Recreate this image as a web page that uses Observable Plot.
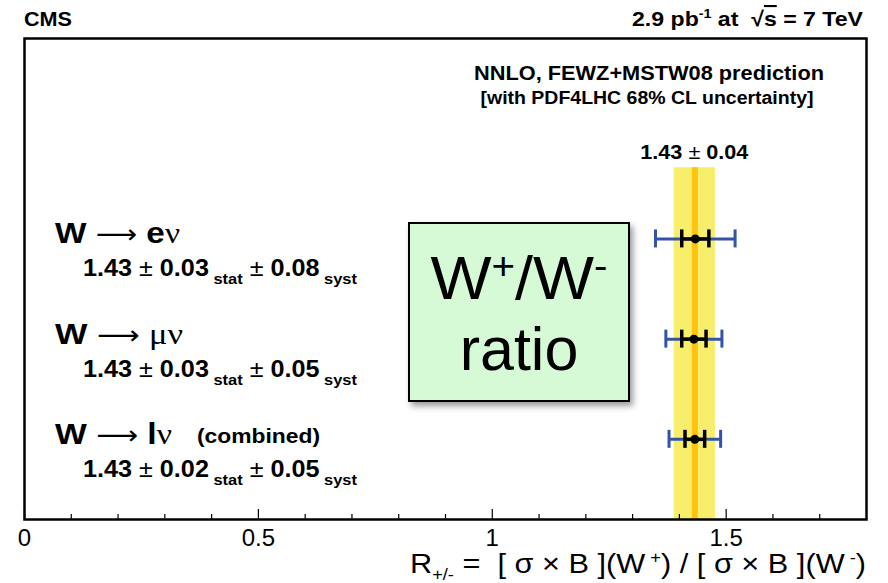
<!DOCTYPE html>
<html>
<head>
<meta charset="utf-8">
<script src="https://cdn.jsdelivr.net/npm/d3@7"></script>
<script src="https://cdn.jsdelivr.net/npm/@observablehq/plot@0.6"></script>
<style>
  html, body { margin: 0; padding: 0; background: #fff; }
  svg { display: block; }
</style>
</head>
<body>
<div id="chart"></div>
<script>
// Decay channels, listed top to bottom
const channels = ["e", "μ", "l"];
const channelNotes = ["", "", "(combined)"];
const rowPos = [3, 2, 1];

// Measured W+/W- cross-section ratio per channel
const ratioValues = [1.434, 1.431, 1.433];
const statErrors = [0.029, 0.026, 0.021];
const systErrors = [0.080, 0.054, 0.051];

// NNLO prediction (FEWZ + MSTW08, PDF4LHC 68% CL)
const predictionValue = 1.433;
const predictionError = 0.044;

// Axis ticks
const majorTicks = [0, 0.5, 1, 1.5];
const minorTicks = [0.1, 0.2, 0.3, 0.4, 0.6, 0.7, 0.8, 0.9, 1.1, 1.2, 1.3, 1.4, 1.6, 1.7];

const W = 888, H = 583;
const margin = {left: 24, right: 22, top: 38, bottom: 64};
const xDomain = [0, 1.8];
const yDomain = [0.2, 5.0];
const unitsPerPx = (yDomain[1] - yDomain[0]) / (H - margin.top - margin.bottom);
const capHalf = 9 * unitsPerPx;
const bandTop = 3.71;

const blue = "#3553a6";
const sans = "'Liberation Sans', Arial, Helvetica, sans-serif";
const serif = "'Liberation Serif', 'Times New Roman', serif";

const rows = channels.map((c, i) => ({
  channel: c,
  note: channelNotes[i],
  pos: rowPos[i],
  value: ratioValues[i],
  stat: statErrors[i],
  syst: systErrors[i],
  total: Math.hypot(statErrors[i], systErrors[i])
}));
const prediction = [{value: predictionValue, error: predictionError}];

const plot = Plot.plot({
  width: W,
  height: H,
  marginLeft: margin.left,
  marginRight: margin.right,
  marginTop: margin.top,
  marginBottom: margin.bottom,
  style: {fontFamily: sans, background: "white", color: "black"},
  x: {domain: xDomain},
  y: {domain: yDomain, axis: null},
  marks: [
    // prediction band and central value
    Plot.rect(prediction, {x1: d => d.value - d.error, x2: d => d.value + d.error, y1: yDomain[0], y2: bandTop, fill: "#f7ee6c"}),
    Plot.ruleX(prediction, {x: "value", y1: yDomain[0], y2: bandTop, stroke: "#fdc310", strokeWidth: 6}),
    // total uncertainty (stat ⊕ syst)
    Plot.ruleY(rows, {y: "pos", x1: d => d.value - d.total, x2: d => d.value + d.total, stroke: blue, strokeWidth: 3}),
    Plot.ruleX(rows, {x: d => d.value - d.total, y1: d => d.pos - capHalf, y2: d => d.pos + capHalf, stroke: blue, strokeWidth: 3}),
    Plot.ruleX(rows, {x: d => d.value + d.total, y1: d => d.pos - capHalf, y2: d => d.pos + capHalf, stroke: blue, strokeWidth: 3}),
    // statistical uncertainty
    Plot.ruleY(rows, {y: "pos", x1: d => d.value - d.stat, x2: d => d.value + d.stat, stroke: "black", strokeWidth: 3.5}),
    Plot.ruleX(rows, {x: d => d.value - d.stat, y1: d => d.pos - capHalf, y2: d => d.pos + capHalf, stroke: "black", strokeWidth: 3.5}),
    Plot.ruleX(rows, {x: d => d.value + d.stat, y1: d => d.pos - capHalf, y2: d => d.pos + capHalf, stroke: "black", strokeWidth: 3.5}),
    Plot.dot(rows, {x: "value", y: "pos", r: 4.5, fill: "black"}),
    // inward ticks on the x axis
    Plot.ruleX(minorTicks, {x: d => d, y1: yDomain[0], y2: yDomain[0] + 5 * unitsPerPx, stroke: "black", strokeWidth: 1.2}),
    Plot.ruleX(majorTicks, {x: d => d, y1: yDomain[0], y2: yDomain[0] + 10 * unitsPerPx, stroke: "black", strokeWidth: 1.2}),
    Plot.frame({stroke: "black", strokeWidth: 2.5}),
    Plot.axisX({ticks: majorTicks, tickSize: 0, tickPadding: 9, fontSize: 24, label: null, tickFormat: d => String(d)})
  ]
});

document.getElementById("chart").appendChild(plot);

const xScale = plot.scale("x");
const yScale = plot.scale("y");
const px = v => xScale.apply(v);
const py = v => yScale.apply(v);
const svg = d3.select(plot);

// Text with mixed fonts, sub- and superscripts; optional fitted width
function richText(parent, {x, y, anchor = "start", size, weight = "bold", family = sans, width}, parts) {
  const t = parent.append("text")
    .attr("x", x).attr("y", y)
    .attr("text-anchor", anchor)
    .attr("font-size", size)
    .attr("font-weight", weight)
    .attr("font-family", family)
    .attr("fill", "black")
    .style("white-space", "pre");
  if (width) t.attr("textLength", width).attr("lengthAdjust", "spacingAndGlyphs");
  let shift = 0;
  for (const p of parts) {
    const s = t.append("tspan").text(p.text);
    const target = p.shift || 0;
    if (target !== shift) { s.attr("dy", target - shift); shift = target; }
    if (p.size) s.attr("font-size", p.size);
    if (p.weight) s.attr("font-weight", p.weight);
    if (p.family) s.attr("font-family", p.family);
    if (p.deco) s.style("text-decoration", p.deco);
  }
  return t;
}

const g = svg.append("g");

// header
richText(g, {x: 24, y: 26, size: 21, width: 48}, [{text: "CMS"}]);
richText(g, {x: 863, y: 26, size: 21, anchor: "end", width: 231}, [
  {text: "2.9 pb"}, {text: "-1", size: 13, shift: -8}, {text: " at  √"},
  {text: "s", deco: "overline"}, {text: " = 7 TeV"}
]);

// prediction labels
richText(g, {x: 649, y: 80, size: 21, anchor: "middle", width: 350}, [{text: "NNLO, FEWZ+MSTW08 prediction"}]);
richText(g, {x: 647, y: 104, size: 17.5, anchor: "middle", width: 333}, [{text: "[with PDF4LHC 68% CL uncertainty]"}]);
prediction.forEach(d => {
  richText(g, {x: px(d.value), y: py(bandTop) - 8, size: 20, anchor: "middle", width: 108}, [
    {text: d.value.toFixed(2)}, {text: " ± ", weight: "normal"}, {text: d.error.toFixed(2)}
  ]);
});

// channel labels and measured values
const titleWidths = {e: 125, "μ": 128, l: 117};
rows.forEach(d => {
  const lepFamily = d.channel === "μ" ? serif : sans;
  const lepWeight = d.channel === "μ" ? "normal" : "bold";
  richText(g, {x: 55, y: py(d.pos) + 5, size: 30, width: titleWidths[d.channel]}, [
    {text: "W "}, {text: "⟶ ", weight: "normal", family: "'DejaVu Sans', sans-serif", size: 26},
    {text: d.channel, family: lepFamily, weight: lepWeight},
    {text: "ν", family: serif, weight: "normal"}
  ]);
  if (d.note) richText(g, {x: 197, y: py(d.pos) + 4, size: 21, width: 123}, [{text: d.note}]);
  richText(g, {x: 83, y: py(d.pos) + 38, size: 23, width: 274}, [
    {text: d.value.toFixed(2)}, {text: " ± ", weight: "normal"}, {text: d.stat.toFixed(2)},
    {text: " stat", size: 15, shift: 8},
    {text: " ± ", weight: "normal"}, {text: d.syst.toFixed(2)},
    {text: " syst", size: 15, shift: 8}
  ]);
});

// title box
const defs = svg.append("defs");
const f = defs.append("filter").attr("id", "boxShadow").attr("x", "-10%").attr("y", "-10%").attr("width", "130%").attr("height", "130%");
f.append("feDropShadow").attr("dx", 3).attr("dy", 4).attr("stdDeviation", 3).attr("flood-color", "#000").attr("flood-opacity", 0.4);
const box = {x: 409, y: 223, w: 220, h: 178};
g.append("rect").attr("x", box.x).attr("y", box.y).attr("width", box.w).attr("height", box.h)
  .attr("fill", "#d5fad5").attr("stroke", "black").attr("stroke-width", 2).attr("filter", "url(#boxShadow)");
richText(g, {x: box.x + box.w / 2, y: 299, size: 61, weight: "normal", anchor: "middle", width: 177}, [
  {text: "W"}, {text: "+", size: 38, shift: -20}, {text: "/W", shift: 0}, {text: "-", size: 38, shift: -20}
]);
richText(g, {x: box.x + box.w / 2, y: 370, size: 61, weight: "normal", anchor: "middle"}, [{text: "ratio"}]);

// axis title
richText(g, {x: 866, y: 573, size: 27, weight: "normal", anchor: "end", width: 456}, [
  {text: "R"}, {text: "+/-", size: 16, shift: 7},
  {text: " =  [ σ × B ](W", shift: 0}, {text: " +", size: 16, shift: -10},
  {text: ") / [ σ × B ](W", shift: 0}, {text: " -", size: 16, shift: -10},
  {text: ")", shift: 0}
]);
</script>
</body>
</html>
